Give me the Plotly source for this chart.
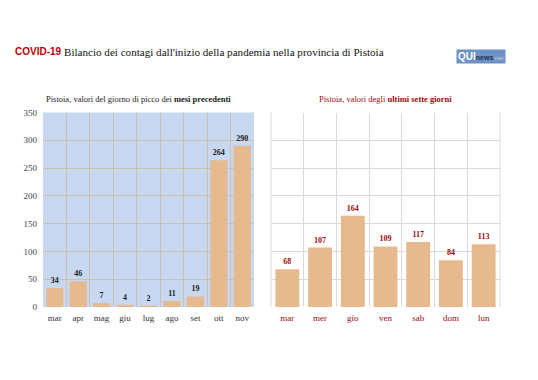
import plotly.graph_objects as go

months = ["mar", "apr", "mag", "giu", "lug", "ago", "set", "ott", "nov"]
month_values = [34, 46, 7, 4, 2, 11, 19, 264, 290]

days = ["mar", "mer", "gio", "ven", "sab", "dom", "lun"]
day_values = [68, 107, 164, 109, 117, 84, 113]

y_ticks = [0, 50, 100, 150, 200, 250, 300, 350]

W, H = 538, 380
SERIF = "Liberation Serif"
BAR = "#e6b98f"
RED = "#9c0a0a"

fig = go.Figure()

fig.add_trace(go.Bar(
    x=months, y=month_values, marker_color=BAR, marker_line_width=0,
    text=month_values, texttemplate="<b>%{text}</b>", textposition="outside",
    textfont=dict(family=SERIF, size=8, color="#222222"),
    cliponaxis=False, xaxis="x", yaxis="y", showlegend=False,
))
fig.add_trace(go.Bar(
    x=days, y=day_values, marker_color=BAR, marker_line_width=0,
    text=day_values, texttemplate="<b>%{text}</b>", textposition="outside",
    textfont=dict(family=SERIF, size=8, color=RED),
    cliponaxis=False, xaxis="x2", yaxis="y2", showlegend=False,
))

def px_x(a, b):
    return [a / W, b / W]

ydom = [1 - 307 / H, 1 - 112.5 / H]

fig.update_layout(
    width=W, height=H,
    margin=dict(l=0, r=0, t=0, b=0, autoexpand=False),
    paper_bgcolor="white", plot_bgcolor="white",
    bargap=0.27,
    xaxis=dict(domain=px_x(43, 254), type="category", tickson="boundaries", automargin=False,
               showgrid=True, gridcolor="#cdbfae", gridwidth=1, tickangle=0,
               ticks="", showline=False, zeroline=False, ticklabelstandoff=4,
               tickfont=dict(family=SERIF, size=9, color="#333333")),
    yaxis=dict(domain=ydom, range=[0, 350], tickvals=y_ticks, automargin=False,
               showgrid=True, gridcolor="#cdbfae", gridwidth=1,
               zeroline=False, showline=False, ticks="", ticklabelstandoff=5,
               tickfont=dict(family=SERIF, size=9, color="#444444")),
    xaxis2=dict(domain=px_x(271, 500), type="category", tickson="boundaries", automargin=False,
                showgrid=True, gridcolor="#dadada", gridwidth=1, tickangle=0,
                ticks="", showline=False, zeroline=False, anchor="y2", ticklabelstandoff=4,
                tickfont=dict(family=SERIF, size=9, color=RED)),
    yaxis2=dict(domain=ydom, range=[0, 350], tickvals=y_ticks, anchor="x2", automargin=False,
                showgrid=True, gridcolor="#dadada", gridwidth=1,
                zeroline=False, showline=False, ticks="",
                showticklabels=False),
    shapes=[
        dict(type="rect", xref="x domain", yref="y domain", x0=0, x1=1, y0=0, y1=1,
             fillcolor="#c9d8f1", line_width=0, layer="below"),
        dict(type="line", xref="x2 domain", yref="y2 domain", x0=0, x1=0, y0=0, y1=1,
             line=dict(color="#dadada", width=1), layer="below"),
        dict(type="line", xref="x2 domain", yref="y2 domain", x0=1, x1=1, y0=0, y1=1,
             line=dict(color="#dadada", width=1), layer="below"),
    ],
    annotations=[
        dict(xref="paper", yref="paper", x=13 / W, y=1 - 52 / H, xanchor="left", yanchor="middle",
             showarrow=False, text="<b>COVID-19</b>",
             font=dict(family="Liberation Sans", size=10, color="#c00000")),
        dict(xref="paper", yref="paper", x=62 / W, y=1 - 52 / H, xanchor="left", yanchor="middle",
             showarrow=False,
             text="Bilancio dei contagi dall'inizio della pandemia nella provincia di Pistoia",
             font=dict(family=SERIF, size=11.1, color="#111111")),
        dict(xref="paper", yref="paper", x=481 / W, y=1 - 56 / H, xanchor="center", yanchor="middle",
             showarrow=False, bgcolor="#6f92c4", borderpad=1,
             text="<b>QUI</b><span style='font-size:7px;color:#1d2f55'><b>news</b></span>"
                  "<span style='font-size:6px;color:#c8d4e8'>.net</span>",
             font=dict(family="Liberation Sans", size=10, color="white")),
        dict(xref="paper", yref="paper", x=138 / W, y=1 - 99 / H, xanchor="center", yanchor="middle",
             showarrow=False,
             text="Pistoia, valori del giorno di picco dei <b>mesi precedenti</b>",
             font=dict(family=SERIF, size=8.5, color="#222222")),
        dict(xref="paper", yref="paper", x=385 / W, y=1 - 99 / H, xanchor="center", yanchor="middle",
             showarrow=False,
             text="Pistoia, valori degli <b>ultimi sette giorni</b>",
             font=dict(family=SERIF, size=8.5, color=RED)),
    ],
)

fig.write_html("out.html", config={"displayModeBar": False},
               post_script="document.body.style.margin='0';")
